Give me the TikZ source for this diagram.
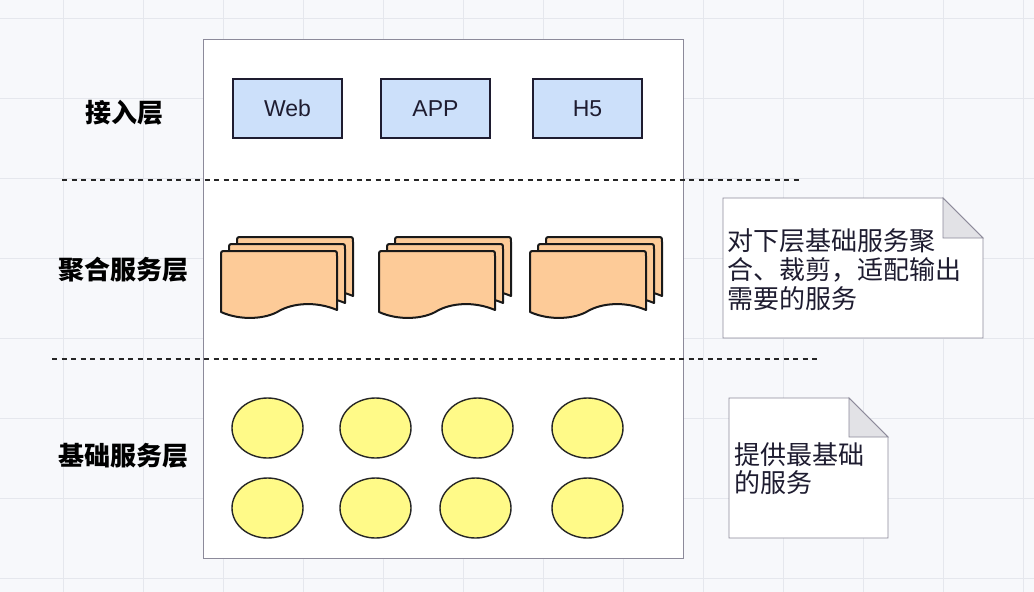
\documentclass[tikz,border=0pt]{standalone}
\usepackage{fontspec}
\setmainfont{Liberation Sans}
\newfontfamily\cjk{Noto Sans CJK SC}
\usetikzlibrary{shapes.geometric}
\definecolor{bgc}{HTML}{F7F8FB}
\definecolor{gridc}{HTML}{E5E7ED}
\definecolor{blueb}{HTML}{CCE0FA}
\definecolor{orangeb}{HTML}{FDCB98}
\definecolor{yellowb}{HTML}{FFFA88}
\definecolor{framec}{HTML}{8C8A9A}
\definecolor{txtc}{HTML}{1E1C30}
\definecolor{foldc}{HTML}{E2E2E6}
\tikzset{
  clientbox/.style={draw=txtc, line width=1.1pt, fill=blueb, minimum width=109pt, minimum height=59pt, inner sep=0pt, font=\fontsize{23}{23}\selectfont, text=txtc},
  svc/.style={ellipse, draw=black!85, line width=1.4pt, fill=yellowb, minimum width=71pt, minimum height=60pt, inner sep=0pt},
  docsh/.style={draw=black!90, line width=2pt, fill=orangeb, line join=round},
  sep/.style={draw=black!85, line width=1.4pt, dash pattern=on 5pt off 4.5pt},
  layerlbl/.style={font=\cjk\bfseries\fontsize{26}{26}\selectfont, text=black},
  notetxt/.style={font=\cjk\fontsize{26}{26}\selectfont, text=txtc, anchor=west, inner sep=0pt},
  notebox/.style={draw=framec, line width=0.9pt, fill=white},
}
\newcommand\docshape[2]{%
  \path[docsh] ({#1},{#2+61}) -- ({#1},{#2+5}) .. controls ({#1},{#2}) .. ({#1+5},{#2})
    -- ({#1+111},{#2}) .. controls ({#1+116},{#2}) .. ({#1+116},{#2+5})
    -- ({#1+116},{#2+59}) .. controls ({#1+95},{#2+50}) and ({#1+72},{#2+52}) .. ({#1+58},{#2+60})
    .. controls ({#1+45},{#2+68}) and ({#1+20},{#2+70}) .. ({#1},{#2+61}) -- cycle;}
\newcommand\multidoc[2]{%
  \docshape{#1+16}{#2-14}\docshape{#1+8}{#2-7}\docshape{#1}{#2}}
\begin{document}
\begin{tikzpicture}[x=1pt,y=-1pt]
\useasboundingbox (0,0) rectangle (1034,592);
\fill[bgc] (0,0) rectangle (1034,592);
\foreach \gx in {63,143,...,1023} \draw[gridc, line width=0.8pt] (\gx,0) -- (\gx,592);
\foreach \gy in {18,98,...,578} \draw[gridc, line width=0.8pt] (0,\gy) -- (1034,\gy);
% main frame
\draw[framec, line width=1pt, fill=white] (203,39) rectangle (683,558);
% separators
\coordinate (s1a) at (62,180); \coordinate (s1b) at (800,180);
\coordinate (s2a) at (52,359); \coordinate (s2b) at (820,359);
\draw[sep] (s1a) -- (s1b);
\draw[sep] (s2a) -- (s2b);
% layer labels
\node[layerlbl] (l1) at (124,113) {接入层};
\node[layerlbl] (l2) at (123,270) {聚合服务层};
\node[layerlbl] (l3) at (123,456) {基础服务层};
% access layer
\node[clientbox] (web) at (287.5,108.5) {Web};
\node[clientbox] (app) at (435.5,108.5) {APP};
\node[clientbox] (h5) at (587.5,108.5) {H5};
% aggregation layer
\multidoc{221}{251}
\multidoc{379}{251}
\multidoc{530}{251}
% base services
\node[svc] (e1) at (267.5,428) {};
\node[svc] (e2) at (375.5,428) {};
\node[svc] (e3) at (477.5,428) {};
\node[svc] (e4) at (587.5,428) {};
\node[svc] (e5) at (267.5,508) {};
\node[svc] (e6) at (375.5,508) {};
\node[svc] (e7) at (475.5,508) {};
\node[svc] (e8) at (587.5,508) {};
% notes
\path[notebox] (723,198) -- (943,198) -- (983,238) -- (983,338) -- (723,338) -- cycle;
\path[notebox, fill=foldc] (943,198) -- (943,238) -- (983,238) -- cycle;
\node[notetxt] (n1a) at (727,241) {对下层基础服务聚};
\node[notetxt] (n1b) at (727,270) {合、裁剪，适配输出};
\node[notetxt] (n1c) at (727,299) {需要的服务};
\path[notebox] (729,398) -- (849,398) -- (888,437) -- (888,538) -- (729,538) -- cycle;
\path[notebox, fill=foldc] (849,398) -- (849,437) -- (888,437) -- cycle;
\node[notetxt] (n2a) at (734,455) {提供最基础};
\node[notetxt] (n2b) at (734,483) {的服务};
\end{tikzpicture}
\end{document}
